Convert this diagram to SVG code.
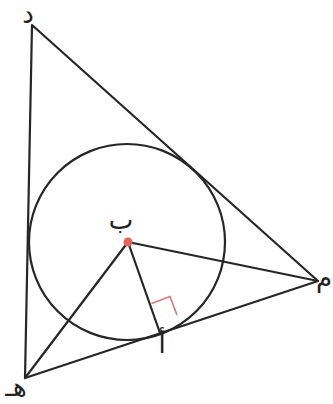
<svg xmlns="http://www.w3.org/2000/svg" width="333" height="404" viewBox="0 0 333 404">
<style>
.ln{stroke:#262626;stroke-width:2.2;fill:none;stroke-linecap:round;stroke-linejoin:round}
.lbl{font-family:"DejaVu Sans",sans-serif;font-size:26px;fill:#222}
.ra{stroke:#d67a7a;stroke-width:1.6;fill:none}
</style>
<rect width="333" height="404" fill="#fff"/>
<g id="connectors">
<polygon class="ln" points="32,25 318,281 25,378"/>
<line class="ln" x1="128" y1="242" x2="25" y2="378"/>
<line class="ln" x1="128" y1="242" x2="318" y2="281"/>
<line class="ln" x1="128" y1="242" x2="160" y2="333"/>
<polyline class="ra" points="151.5,303.5 170,296.5 177,315"/>
</g>
<g id="circle"><circle class="ln" cx="127" cy="242" r="98"/></g>
<g id="node-b"><circle cx="128" cy="242" r="4.5" fill="#e8645a"/><text class="lbl" x="121" y="229" text-anchor="middle">ب</text></g>
<g id="node-d"><text class="lbl" x="28" y="23" text-anchor="middle">د</text></g>
<g id="node-m"><text class="lbl" x="324" y="287" text-anchor="middle">م</text></g>
<g id="node-h"><text class="lbl" x="16" y="396" text-anchor="middle">هـ</text></g>
<g id="node-a"><text class="lbl" x="162" y="353" text-anchor="middle">أ</text></g>
</svg>
